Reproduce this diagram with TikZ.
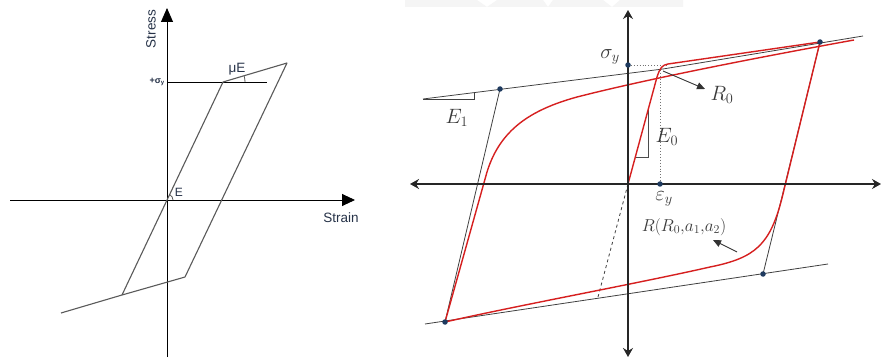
\documentclass[tikz,border=0pt]{standalone}
\usepackage{fontspec}
\newfontfamily\arial{Liberation Sans}
\usetikzlibrary{arrows.meta,calc}
\definecolor{redc}{HTML}{D61F1F}
\definecolor{dotc}{HTML}{1E3A5F}
\definecolor{txtc}{HTML}{3A3A3A}
\definecolor{ltxt}{HTML}{263248}
\definecolor{loopc}{HTML}{5A5A5A}
\begin{document}
\begin{tikzpicture}[x=1pt,y=-1pt,
  laxis/.style={black,line width=0.9pt},
  looppath/.style={loopc,line width=1.1pt,line join=round},
  ltext/.style={text=ltxt,font=\arial\fontsize{13.5}{15}\selectfont,inner sep=0pt},
  raxis/.style={black!85,line width=1.8pt,{Stealth[length=9pt,width=10pt,inset=3pt]}-{Stealth[length=9pt,width=10pt,inset=3pt]}},
  env/.style={black!75,line width=0.8pt},
  redline/.style={redc,line width=1.4pt,line join=round},
  dotp/.style={circle,fill=dotc,inner sep=0pt,minimum size=5.5pt},
  mlabel/.style={text=txtc,inner sep=0pt,font=\fontsize{21}{23}\selectfont},
  pointer/.style={black!80,line width=0.9pt,-{Triangle[length=8pt,width=7pt]}}]
\useasboundingbox (0,0) rectangle (881,358);
\fill[white] (0,0) rectangle (881,358);
% faint watermark band
\fill[gray!8] (405,0) -- (477,0) -- (487,7) -- (497,0) -- (543,0) -- (548,7) -- (553,0) -- (603,0) -- (612,7) -- (620,0) -- (683,0) -- (683,7) -- (405,7) -- cycle;

% ================= LEFT DIAGRAM =================
\coordinate (LO) at (167,200);
\coordinate (Lxs) at (10,200);
\coordinate (Lxe) at (355,200);
\coordinate (Lys) at (167,357);
\coordinate (Lye) at (167,8);
\draw[laxis,-{Triangle[length=13pt,width=12pt]}] (Lxs) -- (Lxe);
\draw[laxis,-{Triangle[length=14pt,width=12pt]}] (Lys) -- (Lye);
\coordinate (LA) at (223,82);
\coordinate (LB) at (287,63);
\coordinate (LC) at (185,277);
\coordinate (LD) at (122,295);
\coordinate (LE) at (61,313);
\coordinate (Lsy) at (167,82);
\coordinate (Lsye) at (267,82);
\draw[laxis] (Lsy) -- (Lsye);
\draw[looppath] (LD) -- (LA) -- (LB) -- (LC) -- (LD) -- (LE);
\draw[loopc,line width=0.8pt] ($(LA)+(22,0)$) arc[start angle=0,end angle=-16.5,radius=22];
\draw[loopc,line width=0.8pt] ($(LO)+(6,0)$) arc[start angle=0,end angle=-64.6,radius=6];
\node[ltext,rotate=90] (stress) at (151,29) {Stress};
\node[ltext] (strain) at (341,218) {Strain};
\node[ltext] (muE) at (237,69) {μE};
\node[ltext,font=\arial\fontsize{12}{13}\selectfont] (Elab) at (179,192) {E};
\node[text=ltxt,inner sep=0pt,anchor=east,font=\arial\bfseries\fontsize{9}{10}\selectfont] (sylab) at (165,82) {+σ\textsubscript{y}};

% ================= RIGHT DIAGRAM =================
\coordinate (RO) at (628,184);
\coordinate (Rxs) at (410,184);
\coordinate (Rxe) at (881,184);
\coordinate (Rys) at (628,357);
\coordinate (Rye) at (628,10);
% envelopes
\coordinate (U1) at (423,99);
\coordinate (U2) at (663,69);
\coordinate (U3) at (863,36);
\coordinate (B1) at (425,324);
\coordinate (B2) at (828,264);
\draw[env] (U1) -- (U2) -- (U3);
\draw[env] (B1) -- (B2);
% points
\coordinate (P1) at (500,89);
\coordinate (P2) at (820,42);
\coordinate (P3) at (445,322);
\coordinate (P4) at (763,274);
\coordinate (Psy) at (628,65);
\coordinate (Pey) at (660,184);
\draw[env] (P3) -- (P1);
\draw[env] (P4) -- (P2);
% E1 triangle
\draw[env,line width=0.7pt] (U1) -- (474,99) -- (474,93);
% E0 triangle
\draw[black!70,line width=0.7pt] (635.3,157) -- (648,157) -- (648,110);
% dotted and dashed guides
\draw[black!55,dotted,line width=0.9pt] (Psy) -- (666,65);
\draw[black!55,dotted,line width=0.9pt] (660,70) -- (Pey);
\draw[black!75,dashed,line width=0.8pt] (RO) -- (598,297);
% red curves
\draw[redline] (RO) -- (657,77) .. controls (660,68) and (662,65) .. (668,64) -- (P2) -- (782,198)
   .. controls (770,245) and (755,258) .. (710,267)
   .. controls (640,283) and (520,305) .. (P3);
\draw[redline] (P3) -- (487,172) .. controls (500,130) and (530,110) .. (577,97)
   .. controls (620,86) and (700,68) .. (854,40);
% axes
\draw[raxis] (Rxs) -- (Rxe);
\draw[raxis] (Rys) -- (Rye);
% dots
\foreach \p in {P1,P2,P3,P4,Psy,Pey} \node[dotp] at (\p) {};
% labels
\node[mlabel] (lsy) at (610,57) {$\sigma_y$};
\node[mlabel] (lE1) at (457,118) {$E_1$};
\node[mlabel] (lE0) at (667,137) {$E_0$};
\node[mlabel] (lR0) at (722,95) {$R_0$};
\node[mlabel,anchor=north] (ley) at (664,191) {$\varepsilon_y$};
\node[mlabel,font=\fontsize{18.5}{20}\selectfont] (lR) at (684,227) {$R\bigl(R_0{,}a_1{,}a_2\bigr)$};
\coordinate (r0s) at (663,71);
\coordinate (r0e) at (705,89);
\draw[pointer] (r0s) -- (r0e);
\coordinate (rs) at (737,252);
\coordinate (re) at (713,240);
\draw[pointer] (rs) -- (re);
\end{tikzpicture}
\end{document}
